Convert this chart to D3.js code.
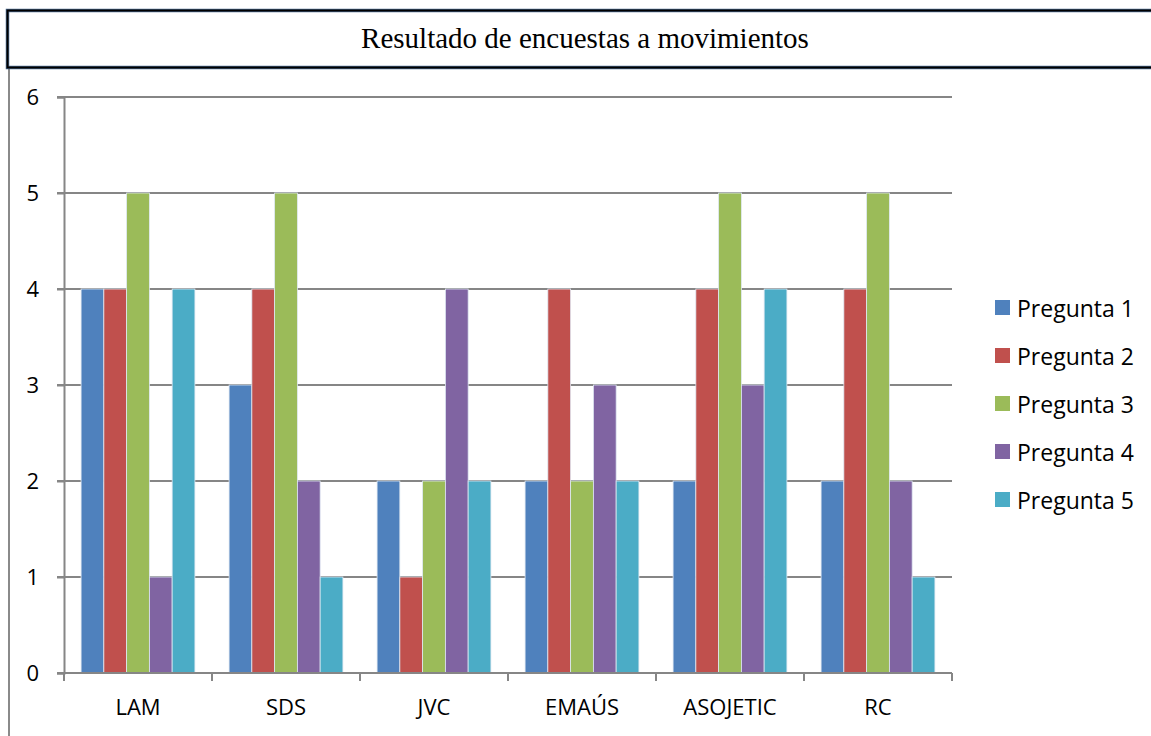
<!DOCTYPE html>
<html>
<head>
<meta charset="utf-8">
<script src="https://cdn.jsdelivr.net/npm/d3@7"></script>
<style>
body { margin: 0; background: #fff; }
svg { display: block; }
.axis text { font-family: "Open Sans", "Noto Sans", sans-serif; font-size: 22px; fill: #000; }
</style>
</head>
<body>
<svg class="chart"></svg>
<script>
var width = 1151,
	height = 736;

var categories = ["LAM", "SDS", "JVC", "EMAÚS", "ASOJETIC", "RC"];
var series = ["Pregunta 1", "Pregunta 2", "Pregunta 3", "Pregunta 4", "Pregunta 5"];
var pregunta1 = [4, 3, 2, 2, 2, 2];
var pregunta2 = [4, 4, 1, 4, 4, 4];
var pregunta3 = [5, 5, 2, 2, 5, 5];
var pregunta4 = [1, 2, 4, 3, 3, 2];
var pregunta5 = [4, 1, 2, 2, 4, 1];
var yTicks = [0, 1, 2, 3, 4, 5, 6];
var colors = ["#4F81BD", "#C0504D", "#9BBB59", "#8064A2", "#4BACC6"];

var values = [pregunta1, pregunta2, pregunta3, pregunta4, pregunta5];

var plot = { left: 64, right: 952, top: 97, bottom: 673 };

var chart = d3.select(".chart")
	.attr("width", width)
	.attr("height", height);

// outer frame: title box + left border
chart.append("line")
	.attr("x1", 9).attr("x2", 9)
	.attr("y1", 68).attr("y2", height)
	.attr("stroke", "#8a8a8a")
	.attr("stroke-width", 2);

chart.append("rect")
	.attr("x", 7.5).attr("y", 10.5)
	.attr("width", width + 10).attr("height", 57)
	.attr("fill", "#fff")
	.attr("stroke", "#4a6a90")
	.attr("stroke-width", 3.5);
chart.append("rect")
	.attr("x", 7.5).attr("y", 10.5)
	.attr("width", width + 10).attr("height", 57)
	.attr("fill", "none")
	.attr("stroke", "#000")
	.attr("stroke-width", 2);

chart.append("text")
	.attr("x", 585)
	.attr("y", 48)
	.attr("text-anchor", "middle")
	.style("font-family", "'Liberation Serif', 'Times New Roman', serif")
	.style("font-size", "29px")
	.text("Resultado de encuestas a movimientos");

var x0 = d3.scaleBand()
	.domain(categories)
	.range([plot.left, plot.right]);

// Excel gap width 150%: five bars + 1.5 bar widths of gap per category
var barW = x0.bandwidth() / 6.5;
var x1 = d3.scaleBand()
	.domain(series)
	.range([barW * 0.75, x0.bandwidth() - barW * 0.75]);

var y = d3.scaleLinear()
	.domain([0, 6])
	.range([plot.bottom, plot.top]);

// gridlines
chart.append("g")
	.selectAll("line")
	.data(yTicks)
	.enter().append("line")
	.attr("x1", plot.left - 7)
	.attr("x2", plot.right)
	.attr("y1", function(d) { return y(d); })
	.attr("y2", function(d) { return y(d); })
	.attr("stroke", "#868686")
	.attr("stroke-width", 2);

// y axis
var yAxis = chart.append("g")
	.attr("class", "axis")
	.attr("transform", "translate(" + plot.left + ",0)")
	.call(d3.axisLeft(y).tickValues(yTicks).tickSize(7).tickPadding(18).tickFormat(d3.format("d")));
yAxis.select(".domain").attr("stroke", "#868686").attr("stroke-width", 2);
yAxis.selectAll(".tick line").attr("stroke", "#868686").attr("stroke-width", 2);

// bars
var group = chart.selectAll(".cat")
	.data(categories)
	.enter().append("g")
	.attr("class", "cat")
	.attr("transform", function(d) { return "translate(" + x0(d) + ",0)"; });

group.selectAll("rect")
	.data(function(d, i) { return series.map(function(s, j) { return { s: s, v: values[j][i], c: colors[j] }; }); })
	.enter().append("rect")
	.attr("x", function(d) { return x1(d.s); })
	.attr("width", x1.bandwidth())
	.attr("y", function(d) { return y(d.v); })
	.attr("height", function(d) { return y(0) - y(d.v); })
	.attr("fill", function(d) { return d.c; })
	.attr("stroke", "#dfe8f3")
	.attr("stroke-width", 0.8);

// x axis
var xAxis = chart.append("g")
	.attr("class", "axis")
	.attr("transform", "translate(0," + plot.bottom + ")")
	.call(d3.axisBottom(x0).tickSize(0).tickPadding(26));
xAxis.select(".domain").remove();
xAxis.append("line")
	.attr("x1", plot.left - 7).attr("x2", plot.right)
	.attr("stroke", "#868686").attr("stroke-width", 2);
xAxis.selectAll(".sep")
	.data(d3.range(categories.length + 1))
	.enter().append("line")
	.attr("class", "sep")
	.attr("x1", function(i) { return plot.left + i * x0.step(); })
	.attr("x2", function(i) { return plot.left + i * x0.step(); })
	.attr("y1", 0).attr("y2", 8)
	.attr("stroke", "#868686").attr("stroke-width", 2);

// legend
var legend = chart.selectAll(".legend")
	.data(series)
	.enter().append("g")
	.attr("class", "legend")
	.attr("transform", function(d, i) { return "translate(995," + (300 + i * 48) + ")"; });

legend.append("rect")
	.attr("width", 15)
	.attr("height", 15)
	.attr("fill", function(d, i) { return colors[i]; });

legend.append("text")
	.attr("x", 22)
	.attr("y", 17)
	.style("font-family", "'Open Sans', 'Noto Sans', sans-serif")
	.style("font-size", "23px")
	.text(function(d) { return d; });
</script>
</body>
</html>
